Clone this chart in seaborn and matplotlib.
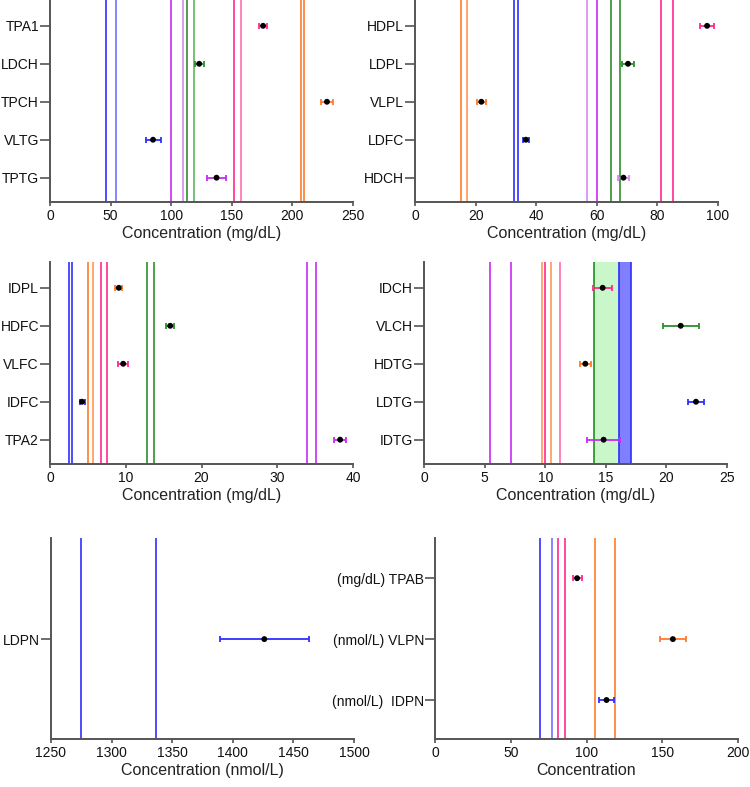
import numpy as np
import pandas as pd
import matplotlib
matplotlib.use("Agg")
import matplotlib.pyplot as plt
import seaborn as sns

sns.set_theme(style="ticks")
plt.rcParams['font.family'] = ['Liberation Sans', 'DejaVu Sans']

# ---- data ----
# panel 1 (mg/dL)
p1_labels = ['TPA1', 'LDCH', 'TPCH', 'VLTG', 'TPTG']
p1_mean = [175.8, 123.1, 228.5, 85.0, 137.4]
p1_err = [3.5, 3.6, 4.8, 6.2, 8.0]
p1_refs = [46.4, 54.4, 99.6, 109.5, 113.4, 119.2, 152.1, 157.3, 207.0, 209.7]

# panel 2 (mg/dL)
p2_labels = ['HDPL', 'LDPL', 'VLPL', 'LDFC', 'HDCH']
p2_mean = [96.4, 70.3, 21.9, 36.6, 68.8]
p2_err = [2.2, 1.9, 1.4, 1.0, 1.8]
p2_refs = [15.2, 17.2, 32.6, 34.1, 56.9, 60.0, 64.8, 67.8, 81.3, 85.1]

# panel 3 (mg/dL)
p3_labels = ['IDPL', 'HDFC', 'VLFC', 'IDFC', 'TPA2']
p3_mean = [9.08, 15.87, 9.66, 4.23, 38.3]
p3_err = [0.48, 0.53, 0.64, 0.33, 0.77]
p3_refs = [2.47, 2.87, 5.03, 5.73, 6.7, 7.54, 12.87, 13.71, 33.95, 35.16]

# panel 4 (mg/dL)
p4_labels = ['IDCH', 'VLCH', 'HDTG', 'LDTG', 'IDTG']
p4_mean = [14.74, 21.18, 13.31, 22.44, 14.82]
p4_err = [0.81, 1.47, 0.47, 0.69, 1.39]
p4_refs = [5.47, 7.2, 9.74, 10.01, 10.5, 11.25]
p4_bands = [(14.0, 16.05), (16.05, 17.1)]

# panel 5 (nmol/L)
p5_labels = ['LDPN']
p5_mean = [1426.0]
p5_err = [36.7]
p5_refs = [1274.8, 1336.9]

# panel 6 (mixed units)
p6_labels = ['(mg/dL) TPAB', '(nmol/L) VLPN', '(nmol/L)  IDPN']
p6_mean = [93.8, 157.0, 113.2]
p6_err = [2.9, 8.7, 4.9]
p6_refs = [69.4, 77.1, 81.5, 85.5, 105.3, 118.5]

# ---- colours ----
BLUE, LBLUE = '#2f2fff', '#7272ff'
PURP, LPURP = '#c62cf2', '#d78af5'
GREEN, LGREEN = '#2f8f2f', '#5cb85c'
PINK, LPINK = '#ff2a8f', '#ff6fb0'
ORANGE, LORANGE = '#ff7a2a', '#ff9a5a'
AXC = '#555555'

p1_colors = [PINK, GREEN, ORANGE, BLUE, PURP]
p1_ref_colors = [BLUE, LBLUE, PURP, LPURP, GREEN, LGREEN, PINK, LPINK, ORANGE, ORANGE]
p2_colors = [PINK, GREEN, ORANGE, BLUE, LPURP]
p2_ref_colors = [ORANGE, LORANGE, BLUE, BLUE, LPURP, PURP, GREEN, GREEN, PINK, PINK]
p3_colors = [ORANGE, GREEN, PINK, BLUE, PURP]
p3_ref_colors = [BLUE, BLUE, ORANGE, LORANGE, PINK, PINK, GREEN, GREEN, PURP, PURP]
p4_colors = [PINK, GREEN, ORANGE, BLUE, PURP]
p4_ref_colors = [PURP, PURP, LORANGE, PINK, LORANGE, LPINK]
p5_colors = [BLUE]
p5_ref_colors = [BLUE, BLUE]
p6_colors = [PINK, ORANGE, BLUE]
p6_ref_colors = [BLUE, LBLUE, PINK, PINK, ORANGE, ORANGE]

W, H = 750, 787


def rect(x0, y_top, y_bot, w=303):
    return [x0 / W, 1 - y_bot / H, w / W, (y_bot - y_top) / H]


def panel(ax, labels, mean, err, colors, refs, ref_colors, xlim, step,
          xlabel, pos=None, ylim=None):
    n = len(labels)
    if pos is None:
        pos = list(range(n))
    for r, c in zip(refs, ref_colors):
        ax.axvline(r, color=c, lw=1.2, zorder=1)
    for m, e, p, c in zip(mean, err, pos, colors):
        ax.errorbar(m, p, xerr=e, fmt='none', ecolor=c, elinewidth=1.3,
                    capsize=2.2, capthick=1.3, zorder=3)
    df = pd.DataFrame({'mean': mean, 'pos': pos})
    sns.scatterplot(data=df, x='mean', y='pos', color='black', s=18,
                    edgecolor='none', zorder=4, ax=ax, legend=False)
    if ylim is None:
        ylim = (n - 1 + 0.64, -0.68)
    ax.set_ylim(*ylim)
    ax.set_xlim(*xlim)
    ax.set_xticks(np.arange(xlim[0], xlim[1] + step / 2, step))
    ax.set_yticks(pos)
    ax.set_yticklabels(labels)
    ax.set_xlabel(xlabel, fontsize=11.5, labelpad=2, color='#222222')
    ax.set_ylabel('')
    sns.despine(ax=ax)
    for s in ['left', 'bottom']:
        ax.spines[s].set_color(AXC)
        ax.spines[s].set_linewidth(1.4)
    ax.tick_params(axis='y', length=7, width=1.2, color=AXC, pad=1,
                   labelsize=10, labelcolor='#111111')
    ax.tick_params(axis='x', length=3, width=1.2, color=AXC, pad=2,
                   labelsize=10, labelcolor='#111111')
    ax.grid(False)


fig = plt.figure(figsize=(W / 100, H / 100), dpi=100)

ax1 = fig.add_axes(rect(50, 0, 202))
panel(ax1, p1_labels, p1_mean, p1_err, p1_colors, p1_refs, p1_ref_colors,
      (0, 250), 50, 'Concentration (mg/dL)')

ax2 = fig.add_axes(rect(415, 0, 202))
panel(ax2, p2_labels, p2_mean, p2_err, p2_colors, p2_refs, p2_ref_colors,
      (0, 100), 20, 'Concentration (mg/dL)')

ax3 = fig.add_axes(rect(50, 262, 464))
panel(ax3, p3_labels, p3_mean, p3_err, p3_colors, p3_refs, p3_ref_colors,
      (0, 40), 10, 'Concentration (mg/dL)')

ax4 = fig.add_axes(rect(424, 262, 464))
ax4.axvspan(*p4_bands[0], facecolor='#c9f7c9', edgecolor='none', zorder=0)
ax4.axvline(p4_bands[0][0], color='#1f8f1f', lw=1.2, zorder=1)
ax4.axvspan(*p4_bands[1], facecolor='#8080ff', edgecolor='none', zorder=0)
ax4.axvline(p4_bands[1][0], color=BLUE, lw=1.2, zorder=1)
ax4.axvline(p4_bands[1][1], color=BLUE, lw=1.2, zorder=1)
panel(ax4, p4_labels, p4_mean, p4_err, p4_colors, p4_refs, p4_ref_colors,
      (0, 25), 5, 'Concentration (mg/dL)')

ax5 = fig.add_axes(rect(51, 538, 739))
panel(ax5, p5_labels, p5_mean, p5_err, p5_colors, p5_refs, p5_ref_colors,
      (1250, 1500), 50, 'Concentration (nmol/L)', pos=[1],
      ylim=(2.64, -0.66))

ax6 = fig.add_axes(rect(435, 538, 739))
panel(ax6, p6_labels, p6_mean, p6_err, p6_colors, p6_refs, p6_ref_colors,
      (0, 200), 50, 'Concentration', ylim=(2.64, -0.66))

fig.savefig('out.png', dpi=100)
